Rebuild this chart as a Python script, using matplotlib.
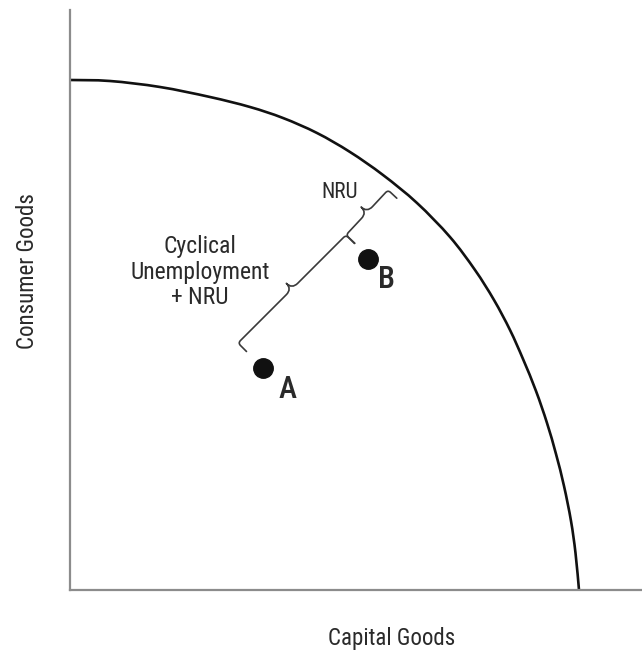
"""
Production possibilities frontier with cyclical unemployment + NRU braces.
Saves out.png
"""
import numpy as np
import matplotlib
matplotlib.use("Agg")
import matplotlib.pyplot as plt
from matplotlib import font_manager as fm
from matplotlib.path import Path
from matplotlib.patches import PathPatch

# ── Pick a condensed face if one is installed (the original uses one) ────────
FILES = [f.fname for f in fm.fontManager.ttflist]


def find_font(keys, fallback_weight="normal"):
    for key in keys:
        for fn in FILES:
            if key in fn.lower().replace(" ", ""):
                return fm.FontProperties(fname=fn)
    return fm.FontProperties(family="DejaVu Sans", stretch="condensed",
                             weight=fallback_weight)


FONT = find_font(["liberationsansnarrow-regular", "robotocondensed-regular",
                  "dejavusanscondensed.", "opensans_condensed-regular",
                  "opensans-condensedregular", "notosans-condensed."])
FONT_BOLD = find_font(["robotocondensed-medium", "robotocondensed-semibold",
                       "liberationsansnarrow-bold.", "robotocondensed-bold.",
                       "dejavusanscondensed-bold."], "bold")

# ── PPF (capital goods, consumer goods) ───────────────────────────────────────
capital = [0.00, 0.40, 0.90, 1.40, 1.80, 2.13, 2.47, 2.80, 3.13, 3.47, 3.80,
           4.05, 4.24, 4.40, 4.53, 4.66, 4.77, 4.86, 4.94, 5.01, 5.055, 5.09]
consumer = [5.10, 5.09, 5.03, 4.93, 4.83, 4.72, 4.57, 4.38, 4.15, 3.87, 3.53,
            3.20, 2.90, 2.60, 2.31, 1.99, 1.67, 1.36, 1.04, 0.69, 0.37, 0.00]

# ── Production points ─────────────────────────────────────────────────────────
point_names = ["A", "B"]
point_x = [1.93, 2.98]
point_y = [2.22, 3.31]

# ── Braces: (start, end, label) ───────────────────────────────────────────────
brace_start = [(1.68, 2.47), (2.76, 3.55)]
brace_end = [(2.76, 3.55), (3.18, 4.00)]
brace_labels = ["Cyclical\nUnemployment\n+ NRU", "NRU"]


def smooth_path(xs, ys):
    """Catmull-Rom curve through the read points, as cubic Bezier segments."""
    pts = np.column_stack([xs, ys])
    ext = np.vstack([pts[0], pts, pts[-1]])
    verts, codes = [pts[0]], [Path.MOVETO]
    for i in range(1, len(ext) - 2):
        p0, p1, p2, p3 = ext[i - 1], ext[i], ext[i + 1], ext[i + 2]
        verts += [p1 + (p2 - p0) / 6, p2 - (p3 - p1) / 6, p2]
        codes += [Path.CURVE4] * 3
    return Path(verts, codes)


def draw_brace(ax, p0, p1, hook=0.12, tip=0.08, r=0.035, w=0.08):
    """Curly brace from p0 to p1, cusp on the left side of p0->p1."""
    p0, p1 = np.asarray(p0, float), np.asarray(p1, float)
    d = p1 - p0
    L = np.hypot(*d)
    u = d / L
    n = np.array([-u[1], u[0]])
    m = L / 2
    local = [(0, -hook), (0, -r), (0, 0), (r, 0),
             (m - w, 0), (m, 0), (m, tip), (m, 0), (m + w, 0),
             (L - r, 0), (L, 0), (L, -r), (L, -hook)]
    codes = [Path.MOVETO, Path.LINETO, Path.CURVE3, Path.CURVE3,
             Path.LINETO, Path.CURVE3, Path.CURVE3, Path.CURVE3, Path.CURVE3,
             Path.LINETO, Path.CURVE3, Path.CURVE3, Path.LINETO]
    verts = [p0 + a * u + b * n for a, b in local]
    ax.add_patch(PathPatch(Path(verts, codes), fill=False,
                           edgecolor="#3a3a3a", linewidth=1.2,
                           capstyle="round", joinstyle="round", zorder=3))


def label(ax, x, y, s, size, font=FONT, **kw):
    ax.text(x, y, s, fontproperties=font, fontsize=size, ha="center",
            va="center", color="#2a2a2a", clip_on=False, **kw)


fig = plt.figure(figsize=(6.42, 6.56), dpi=100)
ax = fig.add_axes([70 / 642, 66 / 656, 572 / 642, 580 / 656])
ax.set_xlim(0, 5.72)
ax.set_ylim(0, 5.80)

for side in ("top", "right"):
    ax.spines[side].set_visible(False)
for side in ("left", "bottom"):
    ax.spines[side].set_color("#8c8c8c")
    ax.spines[side].set_linewidth(1.6)
ax.set_xticks([])
ax.set_yticks([])

# PPF
ax.add_patch(PathPatch(smooth_path(capital, consumer), fill=False,
                       edgecolor="#111111", linewidth=1.9, zorder=2))

# Points
ax.plot(point_x, point_y, "o", color="#111111", markersize=14, zorder=4)
label_pos = [(2.18, 2.01), (3.16, 3.11)]
for name, (lx, ly) in zip(point_names, label_pos):
    label(ax, lx, ly, name, 22, font=FONT_BOLD)

# Braces
for s, e in zip(brace_start, brace_end):
    draw_brace(ax, s, e)

label(ax, 1.30, 3.18, brace_labels[0], 17, linespacing=1.15)
label(ax, 2.70, 3.98, brace_labels[1], 15.5)

# Axis titles
label(ax, -0.42, 3.19, "Consumer Goods", 16.5, rotation=90)
label(ax, 3.22, -0.49, "Capital Goods", 16.5)

fig.savefig("out.png", dpi=100, facecolor="white")
